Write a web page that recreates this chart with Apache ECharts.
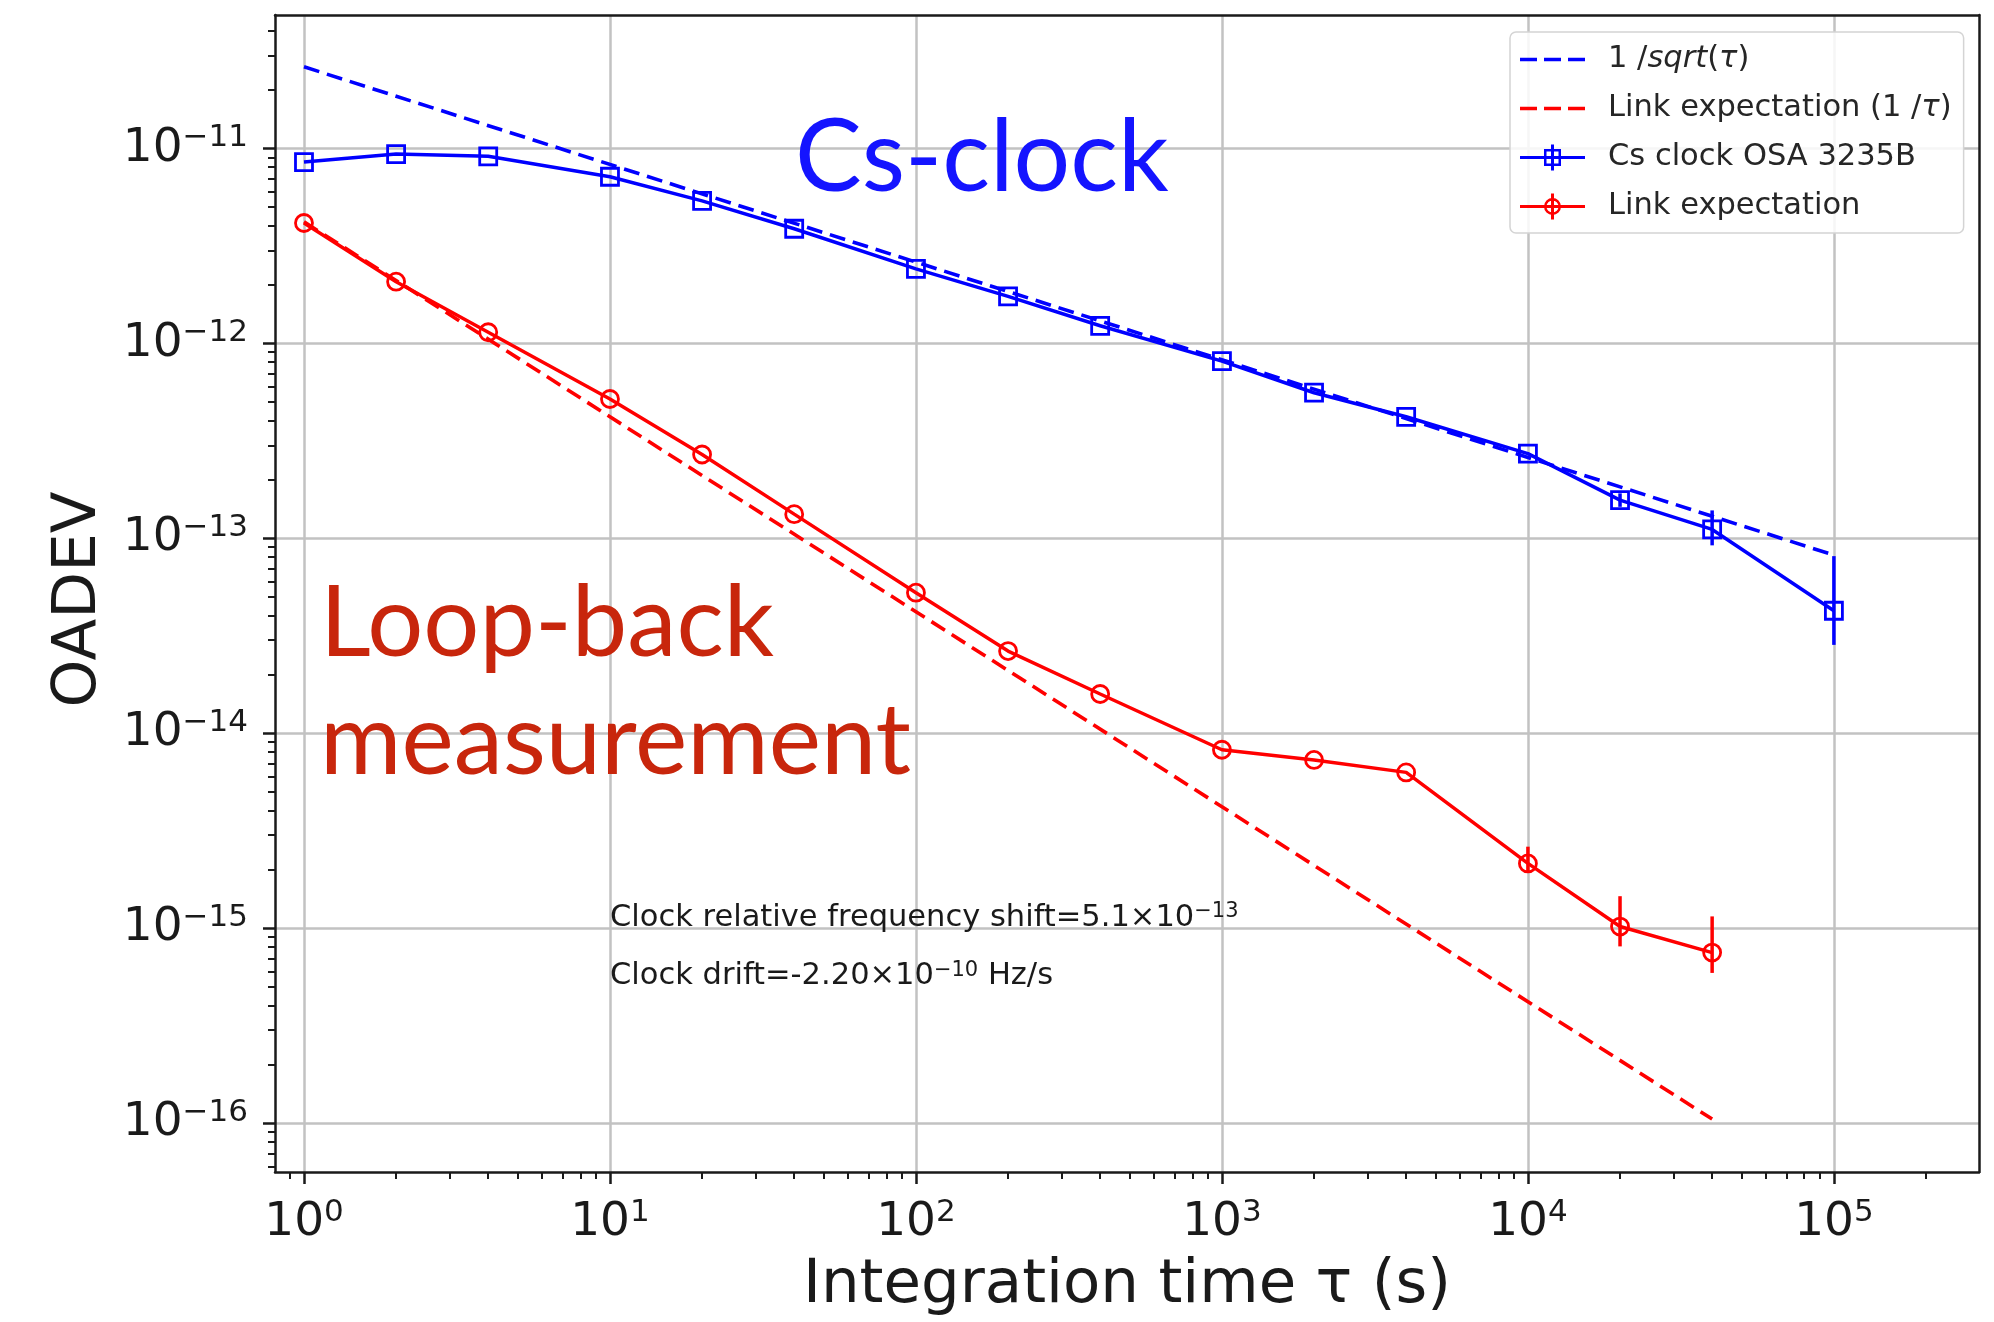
<!DOCTYPE html>
<html><head><meta charset="utf-8">
<script src="https://cdn.jsdelivr.net/npm/echarts@6/dist/echarts.min.js"></script>
<style>html,body{margin:0;padding:0;background:#fff}#chart{width:1994px;height:1322px}</style>
</head><body><div id="chart"></div>
<script>
// ---- data ----
const tau = [1, 2, 4, 10, 20, 40, 100, 200, 400, 1000, 2000, 4000, 10000, 20000, 40000, 100000];
const csClock = [8.5e-12, 9.35e-12, 9.1e-12, 7.15e-12, 5.38e-12, 3.87e-12, 2.41e-12, 1.74e-12, 1.23e-12, 8.1e-13, 5.58e-13, 4.2e-13, 2.72e-13, 1.57e-13, 1.11e-13, 4.25e-14];
const linkTau = [1, 2, 4, 10, 20, 40, 100, 200, 400, 1000, 2000, 4000, 10000, 20000, 40000];
const linkMeas = [4.14e-12, 2.07e-12, 1.14e-12, 5.18e-13, 2.69e-13, 1.33e-13, 5.26e-14, 2.64e-14, 1.59e-14, 8.23e-15, 7.3e-15, 6.3e-15, 2.15e-15, 1.02e-15, 7.5e-16];
const sqrtRefTau = [1, 100000];
const sqrtRefVal = [2.62e-11, 8.2e-14];
const linkRefTau = [1, 40000];
const linkRefVal = [4.2e-12, 1.05e-16];
const csErrTau = [20000, 40000, 100000];
const csErrLo = [1.45e-13, 9.2e-14, 2.84e-14];
const csErrHi = [1.70e-13, 1.39e-13, 8.1e-14];
const linkErrTau = [10000, 20000, 40000];
const linkErrLo = [1.95e-15, 8.07e-16, 5.9e-16];
const linkErrHi = [2.62e-15, 1.46e-15, 1.15e-15];
const annoX = [10, 10];
const annoY = [1e-15, 5e-16];
const annoText = ['Clock relative frequency shift=5.1\u00d710{s|\u221213}', 'Clock drift=-2.20\u00d710{s|\u221210} Hz/s'];
const xMajorTicks = [1, 10, 100, 1000, 10000, 100000];
const yMajorTicks = [1e-16, 1e-15, 1e-14, 1e-13, 1e-12, 1e-11];
const xMin = 0.804, xMax = 2.98e5, yMin = 5.62e-17, yMax = 4.83e-11;

function minorTicks(lo, hi, expFrom, expTo) {
  const out = [];
  for (let e = expFrom; e <= expTo; e++) {
    for (let k = 2; k <= 9; k++) {
      const v = Number((k * Math.pow(10, e)).toPrecision(6));
      if (v > lo && v < hi) out.push(v);
    }
  }
  return out;
}
const xMinorTicks = minorTicks(xMin, xMax, -1, 5);
const yMinorTicks = minorTicks(yMin, yMax, -17, -11);

const ink = '#1a1a1a';
const gridGray = '#c2c2c2';
const BLUE = '#0000ff', RED = '#ff0000';

// legend glyphs (matplotlib-style: dashed line / line + hollow marker + error bar)
const ICON_DASH = 'path://M0,11.2h17v3.6h-17z M24,11.2h17v3.6h-17z M48,11.2h17v3.6h-17z M0,0h0.01v0.01h-0.01z M0,25.99h0.01v0.01h-0.01z';
const ICON_SQUARE = 'path://M0,11.5h65v3h-65z M31,0h3v26h-3z M24,4.5h17v17h-17z M26.5,7v12h12v-12z';
const ICON_CIRCLE = 'path://M0,11.5h65v3h-65z M31,0h3v26h-3z M24,13A8.5,8.5 0 1,1 41,13A8.5,8.5 0 1,1 24,13Z M26.5,13A6,6 0 1,0 38.5,13A6,6 0 1,0 26.5,13Z';

function powLabel(v) {
  const e = Math.round(Math.log10(v));
  return '{b|10}{s|' + (e < 0 ? '\u2212' + (-e) : String(e)) + '}';
}
const tickRich = {
  b: { fontSize: 47, fontFamily: 'DejaVu Sans', color: ink, lineHeight: 51 },
  s: { fontSize: 31, fontFamily: 'DejaVu Sans', color: ink, lineHeight: 29, verticalAlign: 'top' }
};

function spineAxis(pos, extra) {
  return Object.assign({
    type: 'log', logBase: 10, position: pos, z: 10,
    axisLine: { show: true, onZero: false, lineStyle: { color: ink, width: 2.5 } },
    axisTick: { show: false }, axisLabel: { show: false }, splitLine: { show: false }, minorTick: { show: false }
  }, extra);
}

const xBase = { min: xMin, max: xMax };
const yBase = { min: yMin, max: yMax };
const plainIcon = (c) => ({ color: c, borderWidth: 0, borderColor: 'transparent' });

const option = {
  animation: false,
  backgroundColor: '#ffffff',
  grid: { left: 275, right: 15, top: 15, bottom: 145, containLabel: false },
  legend: {
    data: [
      { name: '1 /sqrt(\u03c4)', icon: ICON_DASH, itemStyle: plainIcon(BLUE) },
      { name: 'Link expectation (1 /\u03c4)', icon: ICON_DASH, itemStyle: plainIcon(RED) },
      { name: 'Cs clock OSA 3235B', icon: ICON_SQUARE, itemStyle: plainIcon(BLUE) },
      { name: 'Link expectation', icon: ICON_CIRCLE, itemStyle: plainIcon(RED) }
    ],
    orient: 'vertical', left: 1510, top: 32,
    padding: [12, 12, 11, 10], itemGap: 18, itemWidth: 65, itemHeight: 26,
    backgroundColor: 'rgba(255,255,255,0.85)', borderColor: '#d4d4d4', borderWidth: 1.5, borderRadius: 6,
    textStyle: { fontSize: 30.5, fontFamily: 'DejaVu Sans', color: '#262626', padding: [0, 0, 0, 18],
      rich: { i: { fontSize: 30.5, fontFamily: 'DejaVu Sans', fontStyle: 'italic', color: '#262626' } } },
    formatter: function (name) {
      if (name === '1 /sqrt(\u03c4)') return '1 /{i|sqrt}({i|\u03c4})';
      if (name === 'Link expectation (1 /\u03c4)') return 'Link expectation (1 /{i|\u03c4})';
      return name;
    }
  },
  xAxis: [
    spineAxis('bottom', Object.assign({}, xBase, {
      axisTick: { show: true, inside: false, length: 12, customValues: xMajorTicks, lineStyle: { color: ink, width: 2.5 } },
      axisLabel: { show: true, customValues: xMajorTicks, formatter: powLabel, margin: 25, rich: tickRich },
      name: 'Integration time \u03c4 (s)', nameLocation: 'middle', nameGap: 84,
      nameTextStyle: { fontSize: 61, fontFamily: 'DejaVu Sans', color: ink }
    })),
    spineAxis('bottom', Object.assign({}, xBase, {
      axisLine: { show: false },
      axisTick: { show: true, inside: false, length: 7, customValues: xMinorTicks, lineStyle: { color: ink, width: 2 } }
    })),
    spineAxis('bottom', Object.assign({}, xBase, {
      z: 1, axisLine: { show: false },
      axisTick: { show: false, customValues: xMajorTicks },
      splitLine: { show: true, lineStyle: { color: gridGray, width: 2.5 } }
    })),
    spineAxis('top', Object.assign({}, xBase))
  ],
  yAxis: [
    spineAxis('left', Object.assign({}, yBase, {
      axisTick: { show: true, inside: false, length: 12, customValues: yMajorTicks, lineStyle: { color: ink, width: 2.5 } },
      axisLabel: { show: true, customValues: yMajorTicks, formatter: powLabel, margin: 27, rich: tickRich },
      name: 'OADEV', nameLocation: 'middle', nameGap: 165,
      nameTextStyle: { fontSize: 61, fontFamily: 'DejaVu Sans', color: ink, padding: [0, 12, 0, 0] }
    })),
    spineAxis('left', Object.assign({}, yBase, {
      axisLine: { show: false },
      axisTick: { show: true, inside: false, length: 7, customValues: yMinorTicks, lineStyle: { color: ink, width: 2 } }
    })),
    spineAxis('left', Object.assign({}, yBase, {
      z: 1, axisLine: { show: false },
      axisTick: { show: false, customValues: yMajorTicks },
      splitLine: { show: true, lineStyle: { color: gridGray, width: 2.5 } }
    })),
    spineAxis('right', Object.assign({}, yBase))
  ],
  graphic: [
    { type: 'text', left: 795, top: 109, z: 20,
      style: { text: 'Cs-clock', font: '100px Lato', fill: '#1414ff' } },
    { type: 'text', left: 320, top: 575, z: 20,
      style: { text: 'Loop-back', font: '99px Lato', fill: '#c8260c' } },
    { type: 'text', left: 320, top: 693, z: 20,
      style: { text: 'measurement', font: '99px Lato', fill: '#c8260c' } }
  ],
  series: [
    { name: '1 /sqrt(\u03c4)', type: 'line', z: 3, symbol: 'none', color: BLUE,
      data: sqrtRefTau.map((t, i) => [t, sqrtRefVal[i]]),
      lineStyle: { color: BLUE, width: 3.6, type: [16, 8] } },
    { name: 'Link expectation (1 /\u03c4)', type: 'line', z: 3, symbol: 'none', color: RED,
      data: linkRefTau.map((t, i) => [t, linkRefVal[i]]),
      lineStyle: { color: RED, width: 3.6, type: [16, 8] } },
    { name: 'Cs clock OSA 3235B', type: 'line', z: 4, symbol: 'rect', symbolSize: 17, color: BLUE,
      data: tau.map((t, i) => [t, csClock[i]]),
      itemStyle: { color: 'rgba(255,255,255,0)', borderColor: BLUE, borderWidth: 2.8 },
      lineStyle: { color: BLUE, width: 3.5 } },
    { name: 'Link expectation', type: 'line', z: 4, symbol: 'circle', symbolSize: 17, color: RED,
      data: linkTau.map((t, i) => [t, linkMeas[i]]),
      itemStyle: { color: 'rgba(255,255,255,0)', borderColor: RED, borderWidth: 2.8 },
      lineStyle: { color: RED, width: 3.5 } },
    { name: 'csErr', type: 'custom', z: 4,
      data: csErrTau.map((t, i) => [t, csErrLo[i], csErrHi[i]]),
      encode: { x: 0, y: [1, 2] },
      renderItem: function (params, api) {
        const a = api.coord([api.value(0), api.value(1)]);
        const b = api.coord([api.value(0), api.value(2)]);
        return { type: 'line', shape: { x1: a[0], y1: a[1], x2: b[0], y2: b[1] }, style: { stroke: BLUE, lineWidth: 3.5 } };
      } },
    { name: 'linkErr', type: 'custom', z: 4,
      data: linkErrTau.map((t, i) => [t, linkErrLo[i], linkErrHi[i]]),
      encode: { x: 0, y: [1, 2] },
      renderItem: function (params, api) {
        const a = api.coord([api.value(0), api.value(1)]);
        const b = api.coord([api.value(0), api.value(2)]);
        return { type: 'line', shape: { x1: a[0], y1: a[1], x2: b[0], y2: b[1] }, style: { stroke: RED, lineWidth: 3.5 } };
      } },
    { name: 'annotations', type: 'custom', z: 5, clip: false,
      data: annoX.map((x, i) => [x, annoY[i]]),
      encode: { x: 0, y: 1 },
      renderItem: function (params, api) {
        const p = api.coord([api.value(0), api.value(1)]);
        return { type: 'text', x: p[0], y: p[1] + 6,
          style: { text: annoText[params.dataIndex], fontSize: 30.5, fontFamily: 'DejaVu Sans', fill: ink,
            lineHeight: 33, align: 'left', verticalAlign: 'bottom',
            rich: { s: { fontSize: 21, fontFamily: 'DejaVu Sans', fill: ink, lineHeight: 21, verticalAlign: 'top' } } } };
      } }
  ]
};
const chart = echarts.init(document.getElementById('chart'), null, { renderer: 'canvas' });
chart.setOption(option);
</script></body></html>
